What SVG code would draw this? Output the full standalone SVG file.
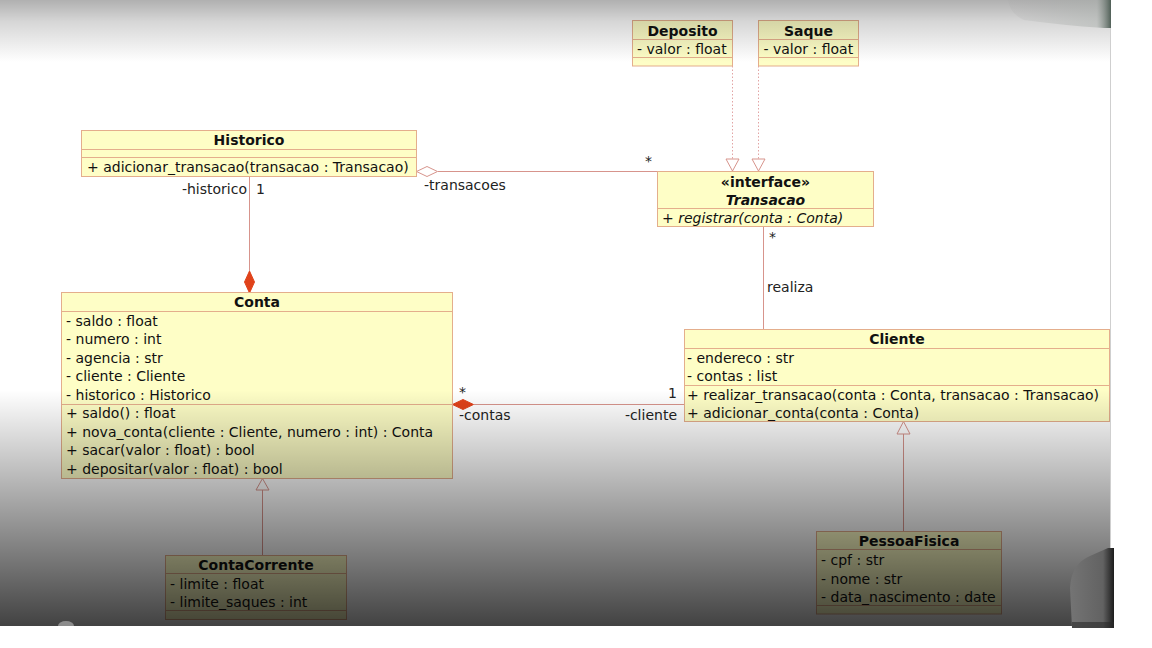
<svg xmlns="http://www.w3.org/2000/svg" width="1152" height="648" viewBox="0 0 1152 648">
  <defs>
    <linearGradient id="shadeTop" gradientUnits="userSpaceOnUse" x1="0" y1="0" x2="0" y2="62">
      <stop offset="0" stop-color="#000" stop-opacity="0.31"/>
      <stop offset="0.35" stop-color="#000" stop-opacity="0.16"/>
      <stop offset="1" stop-color="#000" stop-opacity="0"/>
    </linearGradient>
    <linearGradient id="shadeBottom" gradientUnits="userSpaceOnUse" x1="0" y1="390" x2="0" y2="626">
      <stop offset="0" stop-color="#000" stop-opacity="0"/>
      <stop offset="1" stop-color="#000" stop-opacity="0.74"/>
    </linearGradient>
    <linearGradient id="cornerTop" gradientUnits="userSpaceOnUse" x1="1005" y1="0" x2="1113" y2="0">
      <stop offset="0" stop-color="#a0a0a0" stop-opacity="0.1"/>
      <stop offset="0.85" stop-color="#a4aaa6" stop-opacity="0.45"/>
      <stop offset="1" stop-color="#3a4c42"/>
    </linearGradient>
    <linearGradient id="cornerBottom" gradientUnits="userSpaceOnUse" x1="1070" y1="0" x2="1114" y2="0">
      <stop offset="0" stop-color="#747474"/>
      <stop offset="0.75" stop-color="#626262"/>
      <stop offset="1" stop-color="#1c1c1c"/>
    </linearGradient>
  </defs>
  <style>
    .box { fill: #fefec6; stroke: #e4ae8c; stroke-width: 1; }
    .sep { stroke: #e4ae8c; stroke-width: 1; }
    text { font-family: "DejaVu Sans", "Liberation Sans", sans-serif; font-size: 14px; fill: #111; }
    .title { font-weight: bold; text-anchor: middle; }
    .end { text-anchor: end; }
    .it { font-style: italic; }
    .assoc { stroke: #d7948c; stroke-width: 1; fill: none; }
    .real { stroke: #e2a4a4; stroke-width: 1; stroke-dasharray: 1.5 2; fill: none; }
    .hollow { fill: #fff; stroke: #d7948c; stroke-width: 1; }
    .comp { fill: #e0421a; stroke: #e0421a; stroke-width: 1; }
    .lbl { fill: #222; }
  </style>

  <rect x="0" y="0" width="1152" height="648" fill="#fff"/>

  <!-- connectors -->
  <g id="connectors">
    <!-- Historico composed into Conta -->
    <line class="assoc" x1="249.5" y1="176.5" x2="249.5" y2="271"/>
    <polygon class="comp" points="249.5,271 254.5,282 249.5,293 244.5,282"/>
    <!-- Historico aggregates Transacao -->
    <line class="assoc" x1="438" y1="171.5" x2="657" y2="171.5"/>
    <polygon class="hollow" points="416.5,171.5 427,166.5 437.5,171.5 427,176.5"/>
    <!-- Cliente composed of Conta -->
    <line class="assoc" x1="474" y1="404.5" x2="684" y2="404.5"/>
    <polygon class="comp" points="452.5,404.5 463,399.5 473.5,404.5 463,409.5"/>
    <!-- Cliente realiza Transacao -->
    <line class="assoc" x1="763.5" y1="226.5" x2="763.5" y2="329.5"/>
    <!-- realizations of Transacao -->
    <line class="real" x1="732.5" y1="66" x2="732.5" y2="159"/>
    <polygon class="hollow" points="726,159 739,159 732.5,171"/>
    <line class="real" x1="758.5" y1="66" x2="758.5" y2="159"/>
    <polygon class="hollow" points="752,159 765,159 758.5,171"/>
    <!-- generalizations -->
    <line class="assoc" x1="262.5" y1="490" x2="262.5" y2="555.5"/>
    <polygon class="hollow" points="262.5,478.5 256,490 269,490"/>
    <line class="assoc" x1="903.5" y1="434" x2="903.5" y2="531.5"/>
    <polygon class="hollow" points="903.5,421.5 897,434 910,434"/>

    <!-- role and multiplicity labels -->
    <text class="lbl" x="645" y="166">*</text>
    <text class="lbl" x="424" y="190">-transacoes</text>
    <text class="lbl end" x="247" y="194">-historico</text>
    <text class="lbl" x="256" y="194">1</text>
    <text class="lbl" x="769" y="242">*</text>
    <text class="lbl" x="767" y="292">realiza</text>
    <text class="lbl" x="459" y="397">*</text>
    <text class="lbl end" x="677" y="398">1</text>
    <text class="lbl" x="459" y="420">-contas</text>
    <text class="lbl end" x="677" y="420">-cliente</text>
  </g>

  <g id="Deposito">
    <rect class="box" x="632.5" y="20.5" width="100" height="45.5"/>
    <line class="sep" x1="632.5" y1="39.5" x2="732.5" y2="39.5"/>
    <line class="sep" x1="632.5" y1="57.5" x2="732.5" y2="57.5"/>
    <text class="title" x="682.5" y="35.5">Deposito</text>
    <text x="637" y="53.5">- valor : float</text>
  </g>

  <g id="Saque">
    <rect class="box" x="758.5" y="20.5" width="100" height="45.5"/>
    <line class="sep" x1="758.5" y1="39.5" x2="858.5" y2="39.5"/>
    <line class="sep" x1="758.5" y1="57.5" x2="858.5" y2="57.5"/>
    <text class="title" x="808.5" y="35.5">Saque</text>
    <text x="763.5" y="53.5">- valor : float</text>
  </g>

  <g id="Transacao">
    <rect class="box" x="657.5" y="171.5" width="216" height="55"/>
    <line class="sep" x1="657.5" y1="208.5" x2="873.5" y2="208.5"/>
    <text class="title" x="765.5" y="186.5">«interface»</text>
    <text class="title it" x="765.5" y="204.5">Transacao</text>
    <text class="it" x="662" y="222.5">+ registrar(conta : Conta)</text>
  </g>

  <g id="Historico">
    <rect class="box" x="81.5" y="130.5" width="335" height="46"/>
    <line class="sep" x1="81.5" y1="149.5" x2="416.5" y2="149.5"/>
    <line class="sep" x1="81.5" y1="157.5" x2="416.5" y2="157.5"/>
    <text class="title" x="249" y="145">Historico</text>
    <text x="87" y="172">+ adicionar_transacao(transacao : Transacao)</text>
  </g>

  <g id="Conta">
    <rect class="box" x="61.5" y="292.5" width="391" height="186"/>
    <line class="sep" x1="61.5" y1="311.5" x2="452.5" y2="311.5"/>
    <line class="sep" x1="61.5" y1="404.5" x2="452.5" y2="404.5"/>
    <text class="title" x="257" y="307">Conta</text>
    <text x="66" y="325.5">- saldo : float</text>
    <text x="66" y="344">- numero : int</text>
    <text x="66" y="362.5">- agencia : str</text>
    <text x="66" y="381">- cliente : Cliente</text>
    <text x="66" y="399.5">- historico : Historico</text>
    <text x="66" y="418">+ saldo() : float</text>
    <text x="66" y="436.5">+ nova_conta(cliente : Cliente, numero : int) : Conta</text>
    <text x="66" y="455">+ sacar(valor : float) : bool</text>
    <text x="66" y="473.5">+ depositar(valor : float) : bool</text>
  </g>

  <g id="Cliente">
    <rect class="box" x="684.5" y="329.5" width="425" height="92"/>
    <line class="sep" x1="684.5" y1="348.5" x2="1109.5" y2="348.5"/>
    <line class="sep" x1="684.5" y1="385.5" x2="1109.5" y2="385.5"/>
    <text class="title" x="897" y="344">Cliente</text>
    <text x="687" y="362.5">- endereco : str</text>
    <text x="687" y="381">- contas : list</text>
    <text x="687" y="399.5">+ realizar_transacao(conta : Conta, transacao : Transacao)</text>
    <text x="687" y="417.5">+ adicionar_conta(conta : Conta)</text>
  </g>

  <g id="ContaCorrente">
    <rect class="box" x="165.5" y="555.5" width="181" height="64"/>
    <line class="sep" x1="165.5" y1="573.5" x2="346.5" y2="573.5"/>
    <line class="sep" x1="165.5" y1="610.5" x2="346.5" y2="610.5"/>
    <text class="title" x="256" y="570">ContaCorrente</text>
    <text x="170" y="588.5">- limite : float</text>
    <text x="170" y="607">- limite_saques : int</text>
  </g>

  <g id="PessoaFisica">
    <rect class="box" x="816.5" y="531.5" width="185" height="82.5"/>
    <line class="sep" x1="816.5" y1="549.5" x2="1001.5" y2="549.5"/>
    <line class="sep" x1="816.5" y1="605.5" x2="1001.5" y2="605.5"/>
    <text class="title" x="909" y="546">PessoaFisica</text>
    <text x="821" y="565">- cpf : str</text>
    <text x="821" y="583.5">- nome : str</text>
    <text x="821" y="602">- data_nascimento : date</text>
  </g>

  <!-- screen shading over the page -->
  <rect x="0" y="0" width="1111" height="62" fill="url(#shadeTop)"/>
  <rect x="0" y="390" width="1111" height="236" fill="url(#shadeBottom)"/>
  <path d="M1008,0 H1113 V28 H1104 Q1060,25 1024,20 Q1010,14 1008,0 Z" fill="url(#cornerTop)"/>
  <path d="M58,626 A8,5 0 0 1 74,626 Z" fill="#8c8c8c"/>

  <!-- page margins -->
  <rect x="1111" y="0" width="41" height="648" fill="#fff"/>
  <rect x="0" y="626" width="1152" height="22" fill="#fff"/>
  <line x1="1110.5" y1="28" x2="1110.5" y2="626" stroke="#cfcfcf" stroke-width="1"/>
  <path d="M1072,628 L1070,588 Q1071,564 1090,556 L1108,548 L1114,548 L1114,628 Z" fill="url(#cornerBottom)"/>
  <rect x="1072" y="622" width="42" height="6" fill="#2a2a2a" opacity="0.6"/>
</svg>
